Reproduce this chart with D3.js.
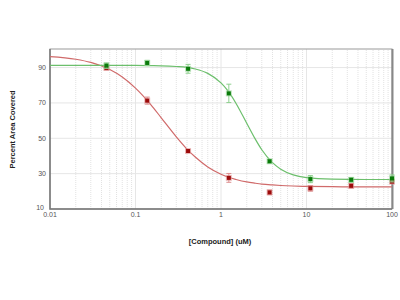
<!DOCTYPE html>
<html lang="en">
<head>
<meta charset="UTF-8">
<title>Dose response</title>
<script src="https://cdnjs.cloudflare.com/ajax/libs/d3/7.8.5/d3.min.js"></script>
<style>
    body { margin: 0; background: #fff; font-family: Arial, "Liberation Sans", sans-serif; }
    .tick-label { font-size: 7px; fill: #555; }
    .axis-label { font-size: 7.5px; font-weight: bold; fill: #222; }
</style>
</head>
<body>
<svg id="chart"></svg>
<script>
    const width = 400;
    const height = 300;
    const margin = {left: 50, right: 8, top: 49, bottom: 91};

    // measured concentrations (uM)
    const conc = [0.0457, 0.137, 0.412, 1.235, 3.70, 11.1, 33.3, 100];
    const redMean = [89.8, 71.3, 42.8, 27.6, 19.4, 21.7, 23.1, 25.5];
    const redErr = [1.2, 2.0, 0.6, 2.5, 1.3, 1.6, 1.3, 1.0];
    const greenMean = [91.1, 92.6, 89.3, 75.4, 37.0, 26.9, 26.5, 27.3];
    const greenErr = [1.5, 1.5, 2.5, 5.2, 1.0, 2.0, 1.3, 2.0];

    // fitted curves
    const fitX = [0.01, 0.02, 0.03, 0.05, 0.07, 0.1, 0.15, 0.2, 0.3, 0.4, 0.5, 0.7, 1, 1.2, 1.5, 2, 2.5, 3, 4, 5, 7, 10, 20, 50, 100];
    const redFit = [96.2, 94.7, 92.9, 88.9, 84.7, 78.4, 69.2, 61.6, 50.8, 43.9, 39.4, 33.8, 29.7, 28.1, 26.7, 25.3, 24.6, 24.1, 23.6, 23.3, 23.0, 22.8, 22.6, 22.5, 22.5];
    const greenFit = [91.2, 91.2, 91.2, 91.2, 91.2, 91.2, 91.1, 91.0, 90.6, 90.1, 89.2, 86.7, 81.3, 76.9, 69.7, 58.5, 49.8, 43.5, 36.2, 32.5, 29.3, 27.8, 26.9, 26.7, 26.7];

    const xTicks = [0.01, 0.1, 1, 10, 100];
    const xTickLabels = ["0.01", "0.1", "1", "10", "100"];
    const yTicks = [10, 30, 50, 70, 90];

    const svg = d3.select("#chart").attr("width", width).attr("height", height);

    const x = d3.scaleLog().domain([0.01, 100]).range([margin.left, width - margin.right]);
    const y = d3.scaleLinear().domain([10, 100.5]).range([height - margin.bottom, margin.top]);

    // minor grid
    let minor = [];
    for (let d = 0.01; d < 100; d *= 10) {
        for (let k = 2; k <= 9; k++) minor.push(d * k);
    }
    svg.append("g").selectAll("line")
        .data(minor)
        .join("line")
        .attr("x1", d => x(d)).attr("x2", d => x(d))
        .attr("y1", y(10)).attr("y2", y(100.5))
        .style("stroke", "#e2e2e2")
        .style("stroke-width", 1)
        .style("stroke-dasharray", "1,1");

    svg.append("g").selectAll("line")
        .data(xTicks.slice(1, -1))
        .join("line")
        .attr("x1", d => x(d)).attr("x2", d => x(d))
        .attr("y1", y(10)).attr("y2", y(100.5))
        .style("stroke", "#e6e6e6");

    svg.append("g").selectAll("line")
        .data(yTicks.slice(1))
        .join("line")
        .attr("x1", x(0.01)).attr("x2", x(100))
        .attr("y1", d => y(d)).attr("y2", d => y(d))
        .style("stroke", "#e6e6e6");

    // frame
    svg.append("rect")
        .attr("x", x(0.01)).attr("y", y(100.5))
        .attr("width", x(100) - x(0.01)).attr("height", y(10) - y(100.5))
        .style("fill", "none").style("stroke", "#999").style("stroke-width", 1);
    svg.append("line")
        .attr("x1", x(100) + 0.5).attr("x2", x(100) + 0.5)
        .attr("y1", y(100.5)).attr("y2", y(10))
        .style("stroke", "#888").style("stroke-width", 2);
    svg.append("path")
        .attr("d", `M${x(0.01)},${y(100.5)}V${y(10)}H${x(100)}`)
        .style("fill", "none").style("stroke", "#777").style("stroke-width", 1.5);

    // ticks
    svg.append("g").selectAll("text")
        .data(yTicks)
        .join("text")
        .attr("class", "tick-label")
        .attr("x", d => margin.left - (d === 10 ? 6 : 4))
        .attr("y", d => y(d) + (d === 10 ? 0.5 : 2.5))
        .attr("text-anchor", "end")
        .text(d => d);

    svg.append("g").selectAll("text")
        .data(xTicks)
        .join("text")
        .attr("class", "tick-label")
        .attr("x", d => x(d))
        .attr("y", y(10) + 8)
        .attr("text-anchor", "middle")
        .text((d, i) => xTickLabels[i]);

    svg.append("text")
        .attr("class", "axis-label")
        .attr("transform", "translate(15," + y(55) + ") rotate(-90)")
        .attr("text-anchor", "middle")
        .text("Percent Area Covered");

    svg.append("text")
        .attr("class", "axis-label")
        .attr("x", 220).attr("y", 244)
        .attr("text-anchor", "middle")
        .text("[Compound] (uM)");

    const line = d3.line()
        .x(d => x(d[0]))
        .y(d => y(d[1]))
        .curve(d3.curveMonotoneX);

    function drawSeries(fit, mean, err, lineColor, barColor, dotColor) {
        svg.append("path")
            .datum(fitX.map((c, i) => [c, fit[i]]))
            .attr("d", line)
            .style("fill", "none")
            .style("stroke", lineColor)
            .style("stroke-width", 1.2);

        const pts = conc.map((c, i) => ({c: c, m: mean[i], e: err[i]}));
        const g = svg.append("g");
        g.selectAll(".bar")
            .data(pts)
            .join("path")
            .attr("d", d => `M${x(d.c)},${y(d.m + d.e)}V${y(d.m - d.e)}` +
                `M${x(d.c) - 2.5},${y(d.m + d.e)}h5M${x(d.c) - 2.5},${y(d.m - d.e)}h5`)
            .style("fill", "none")
            .style("stroke", barColor)
            .style("stroke-width", 1);
        g.selectAll(".halo")
            .data(pts)
            .join("rect")
            .attr("x", d => x(d.c) - 3).attr("y", d => y(d.m) - 3)
            .attr("width", 6).attr("height", 6)
            .style("fill", barColor).style("opacity", 0.6);
        g.selectAll(".dot")
            .data(pts)
            .join("rect")
            .attr("x", d => x(d.c) - 2).attr("y", d => y(d.m) - 2)
            .attr("width", 4).attr("height", 4)
            .style("fill", dotColor);
    }

    drawSeries(redFit, redMean, redErr, "#d06a6a", "#dd9090", "#9c0a0a");
    drawSeries(greenFit, greenMean, greenErr, "#6cbf6c", "#8fd08f", "#0a7a0a");
</script>
</body>
</html>
